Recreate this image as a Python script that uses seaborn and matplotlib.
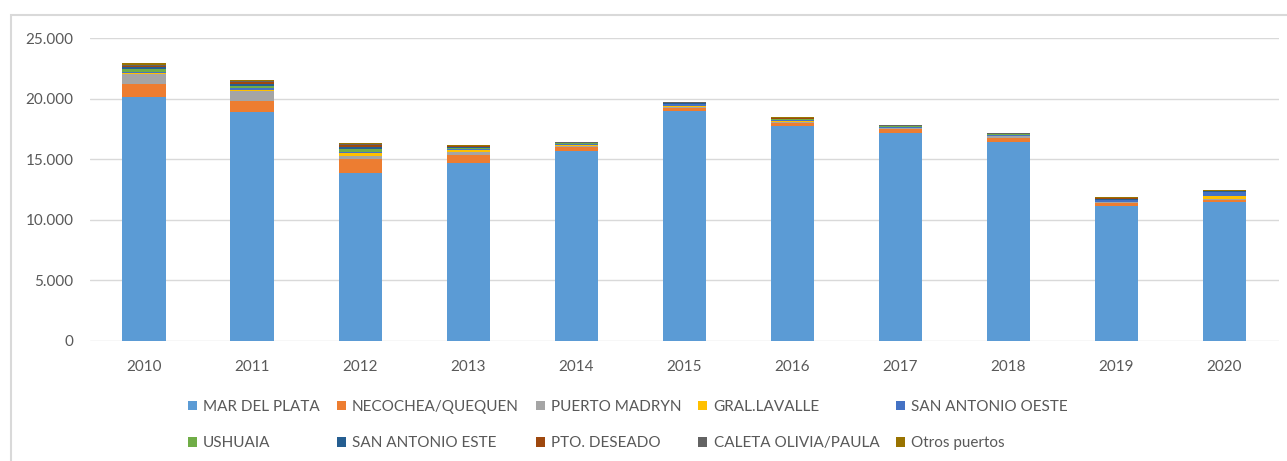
import matplotlib
matplotlib.use("Agg")
import matplotlib.pyplot as plt
import matplotlib.ticker as mticker
import pandas as pd
import seaborn as sns
from matplotlib.patches import Rectangle, Patch

years = ["2010", "2011", "2012", "2013", "2014", "2015", "2016", "2017", "2018", "2019", "2020"]

ports = ["MAR DEL PLATA", "NECOCHEA/QUEQUEN", "PUERTO MADRYN", "GRAL.LAVALLE",
         "SAN ANTONIO OESTE", "USHUAIA", "SAN ANTONIO ESTE", "PTO. DESEADO",
         "CALETA OLIVIA/PAULA", "Otros puertos"]

mar_del_plata = [20100, 18900, 13850, 14700, 15700, 18950, 17750, 17200, 16450, 11150, 11450]
necochea = [1100, 900, 1150, 620, 270, 280, 260, 280, 280, 220, 220]
puerto_madryn = [830, 850, 250, 260, 130, 80, 80, 70, 150, 60, 60]
gral_lavalle = [80, 80, 270, 200, 50, 90, 40, 40, 40, 40, 230]
san_antonio_oeste = [100, 160, 110, 100, 120, 160, 110, 60, 60, 140, 320]
ushuaia = [220, 140, 220, 40, 30, 30, 50, 80, 80, 60, 20]
san_antonio_este = [160, 190, 160, 100, 50, 50, 60, 30, 40, 50, 40]
pto_deseado = [140, 140, 140, 30, 20, 20, 30, 20, 20, 80, 30]
caleta_olivia = [80, 80, 80, 50, 20, 20, 30, 20, 20, 20, 40]
otros = [160, 80, 80, 60, 30, 50, 40, 40, 40, 40, 80]

series = [mar_del_plata, necochea, puerto_madryn, gral_lavalle, san_antonio_oeste,
          ushuaia, san_antonio_este, pto_deseado, caleta_olivia, otros]

colors = ["#5B9BD5", "#ED7D31", "#A5A5A5", "#FFC000", "#4472C4",
          "#70AD47", "#255E91", "#9E480E", "#636363", "#997300"]

df = pd.DataFrame(dict(zip(ports, series)), index=years)
cum = df.cumsum(axis=1)

sns.set_style("white")
plt.rcParams["font.family"] = ["Lato", "DejaVu Sans"]
text_color = "#595959"

fig = plt.figure(figsize=(12.87, 4.61), dpi=100)
ax = fig.add_axes([90 / 1287, 1 - 341 / 461, (1278.5 - 90) / 1287, (341 - 38) / 461])

# stacked bars: draw cumulative totals from the top layer down
for port, color in reversed(list(zip(ports, colors))):
    sns.barplot(x=years, y=cum[port].values, color=color, width=0.4,
                saturation=1, linewidth=0, ax=ax)

ax.set_ylim(0, 25000)
ax.set_xlim(-0.5, len(years) - 0.5)
ax.yaxis.set_major_locator(mticker.MultipleLocator(5000))
ax.yaxis.set_major_formatter(mticker.FuncFormatter(lambda v, p: f"{int(v):,}".replace(",", ".")))
ax.grid(axis="y", color="#D9D9D9", linewidth=1)
ax.set_axisbelow(True)
sns.despine(ax=ax, left=True, bottom=True)
ax.tick_params(axis="y", length=0, pad=12, labelsize=11, labelcolor=text_color)
ax.tick_params(axis="x", length=0, pad=14, labelsize=11, labelcolor=text_color)
ax.set_xlabel("")
ax.set_ylabel("")

handles = [Patch(facecolor=c, edgecolor="none") for c in colors]
order = [0, 5, 1, 6, 2, 7, 3, 8, 4, 9]
fig.legend([handles[i] for i in order], [ports[i] for i in order],
           loc="center", bbox_to_anchor=(628 / 1287, 1 - 425 / 461), ncol=5,
           frameon=False, fontsize=11, labelcolor=text_color,
           handlelength=0.6, handleheight=0.6, handletextpad=0.4,
           columnspacing=1.1, labelspacing=1.45)

fig.patches.append(Rectangle((11 / 1287, -0.05), 1.1, 1 - 15 / 461 + 0.05,
                             transform=fig.transFigure, fill=False,
                             edgecolor="#D9D9D9", linewidth=1.5))

fig.savefig("out.png", dpi=100)
